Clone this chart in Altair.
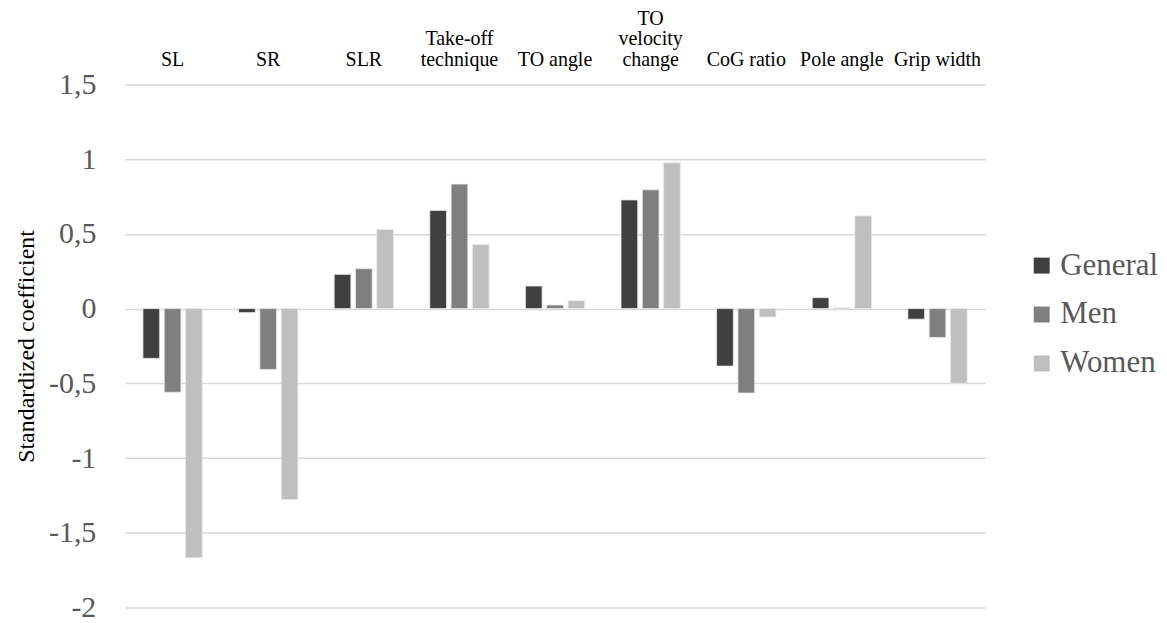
import altair as alt
import pandas as pd

categories = ["SL", "SR", "SLR", "Take-off technique", "TO angle",
              "TO velocity change", "CoG ratio", "Pole angle", "Grip width"]
label_lines = {"Take-off technique": ["Take-off", "technique"],
               "TO velocity change": ["TO", "velocity", "change"]}
groups = ["General", "Men", "Women"]
general = [-0.333, -0.027, 0.229, 0.657, 0.151, 0.727, -0.385, 0.073, -0.071]
men = [-0.560, -0.407, 0.267, 0.833, 0.024, 0.795, -0.565, 0.005, -0.193]
women = [-1.667, -1.278, 0.529, 0.429, 0.053, 0.975, -0.056, 0.620, -0.500]
colors = ["#404040", "#7f7f7f", "#bfbfbf"]

rows = []
for g, vals in zip(groups, [general, men, women]):
    for c, v in zip(categories, vals):
        rows.append({"category": c, "group": g, "value": v})
df = pd.DataFrame(rows)

lab_rows = []
for c in categories:
    lines = label_lines.get(c, [c])
    for i, t in enumerate(lines):
        lab_rows.append({"category": c, "line": 3 - len(lines) + i, "text": t})
labels_df = pd.DataFrame(lab_rows)

FONT = "Liberation Serif"

bars = alt.Chart(df).mark_bar(stroke="#e8e8e8", strokeWidth=0.8).encode(
    x=alt.X("category:N", sort=categories, title=None, axis=None,
            scale=alt.Scale(paddingInner=0.38, paddingOuter=0.19)),
    xOffset=alt.XOffset("group:N", sort=groups,
                        scale=alt.Scale(paddingInner=0.216, paddingOuter=0)),
    y=alt.Y("value:Q", title="Standardized coefficient",
            scale=alt.Scale(domain=[-2, 1.5], nice=False),
            axis=alt.Axis(values=[-2, -1.5, -1, -0.5, 0, 0.5, 1, 1.5],
                          labelExpr="replace(toString(datum.value), '.', ',')",
                          labelFont=FONT, labelFontSize=30, labelColor="#595959",
                          labelFontWeight="normal", domain=False, ticks=False,
                          labelPadding=29, gridColor="#d9d9d9", gridWidth=1.5,
                          titleFont=FONT, titleFontSize=24, titleFontWeight="normal",
                          titleColor="#000000", titlePadding=10)),
    color=alt.Color("group:N", sort=groups,
                    scale=alt.Scale(domain=groups, range=colors),
                    legend=alt.Legend(title=None, orient="none", legendX=903, legendY=166,
                                      labelFont=FONT, labelFontSize=31,
                                      labelColor="#595959", symbolType="square",
                                      symbolSize=256, symbolStrokeWidth=0,
                                      rowPadding=17, labelOffset=3)),
)

cat_labels = alt.Chart(labels_df).mark_text(
    font=FONT, fontSize=20, color="#000000", baseline="middle", align="center"
).encode(
    x=alt.X("category:N", sort=categories, axis=None),
    y=alt.Y("line:O", axis=None,
            scale=alt.Scale(domain=[0, 1, 2], range=[-66, -24], padding=0)),
    text="text:N",
)

chart = alt.layer(bars, cat_labels).resolve_scale(y="independent").properties(
    width=862, height=524,
    padding={"left": 6, "right": 0, "top": 0, "bottom": 0}
).configure_view(strokeWidth=0, stroke="transparent")

chart.save("out.html", embed_options={"renderer": "svg", "actions": False})
